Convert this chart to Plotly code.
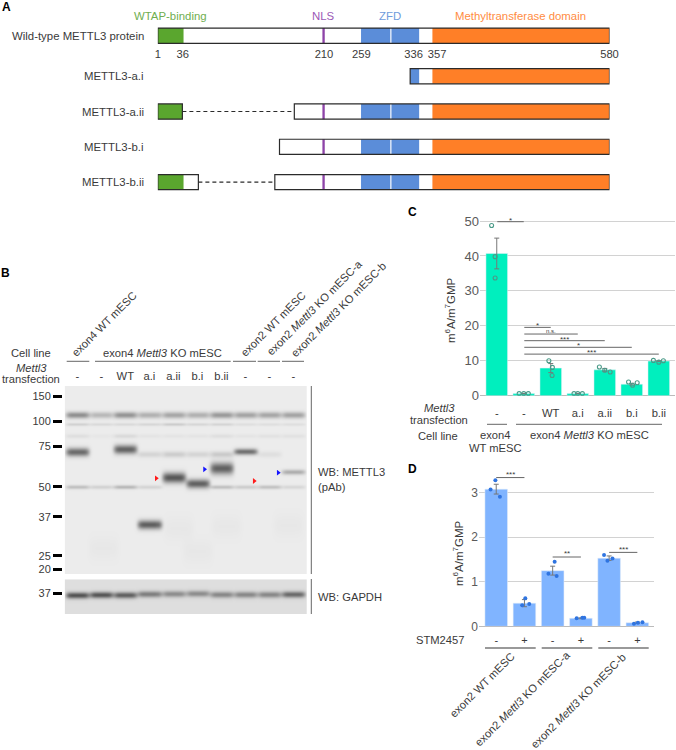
import numpy as np
import plotly.graph_objects as go

W, H = 676, 750
FONT = 'Liberation Sans'
DARK = '#3a3a3a'
GREY = '#5a5a5a'
RULE = '#666666'

# ---- panel A: residue numbers
ROW_NAMES = ['Wild-type METTL3 protein', 'METTL3-a.i', 'METTL3-a.ii', 'METTL3-b.i', 'METTL3-b.ii']
ROW_Y = [-1.15, 0, 1, 2, 3]
BOX_START = [[1], [324.5], [1, 176], [157], [1, 151]]
BOX_END = [[580], [580], [32.5, 580], [580], [53, 580]]
GREEN_END = [34, None, 32.5, None, 34]
NLS_SEEN = [True, False, True, True, True]
ZFD_FROM = [261.5, 324.5, 261.5, 261.5, 261.5]
MT_FROM = 353
RES_LABELS = ['1', '36', '210', '259', '336', '357', '580']
RES_LABEL_AT = [1, 33, 214, 262, 329, 359, 580]

# ---- panel B: blot, positions are migration in px from the top of the gel
LANES = ['-', '-', 'WT', 'a.i', 'a.ii', 'b.i', 'b.ii', '-', '-', '-']
KDA = ['150', '100', '75', '50', '37', '25', '20']
KDA_POS = [10, 35.3, 60.3, 100.7, 130.7, 169.7, 183]
TOP_BAND = [.36, .20, .34, .23, .27, .23, .32, .28, .27, .28]
SOFT_38 = [.10, .07, .07, .08, .12, .08, .09, .05, .05, .05]
SOFT_50 = [.05, .02, .07, .03, .03, .03, .05, .03, .04, .04]
SOFT_68 = [.0, .0, .0, .09, .12, .09, .13, .0, .05, .0]
LOW_BAND = [.17, .10, .20, .09, .0, .0, .17, .12, .16, .08]
STRONG_LANE = [0, 2, 3, 4, 5, 6, 7, 9]
STRONG_POS = [65.7, 63, 138.3, 91.3, 97.3, 82, 65.3, 85.7]
STRONG_SIGMA = [3.0, 3.2, 3.2, 3.7, 3.2, 4.2, 2.2, 1.8]
STRONG_DEPTH = [.50, .53, .55, .58, .54, .54, .48, .24]
SMUDGE_LANE = [1.1, 5.0, 8.8, 4.2, 6.2]
SMUDGE_POS = [162, 165, 139, 142, 140]
GAPDH_DEPTH = [.55, .54, .50, .38, .32, .32, .34, .34, .34, .46]
GAPDH_POS = [15.7, 15.3, 15.5, 14.5, 14.3, 14, 15, 15, 15, 14.8]
ARROW_LANE = [3.29, 5.30, 7.37, 8.37]
ARROW_POS = [92.3, 83.3, 95, 86.7]
ARROW_COL = ['#ff1a1a', '#1414ff', '#ff1a1a', '#1414ff']

# ---- panel C
C_LABELS = ['-', '-', 'WT', 'a.i', 'a.ii', 'b.i', 'b.ii']
C_VALUES = [40.7, 0.6, 7.9, 0.6, 7.4, 3.3, 9.9]
C_ERR = [4.4, 0.05, 1.3, 0.05, 0.4, 0.25, 0.15]
C_PTS = [[48.7, 39.8, 33.7], [0.6, 0.6, 0.6], [10.0, 8.1, 5.8], [0.6, 0.6, 0.6],
         [8.2, 7.3, 6.8], [3.9, 3.0, 3.7], [10.1, 9.6, 10.0]]
C_DX = [[-.19, -.06, -.06], [-.17, 0, .17], [-.07, .06, .05], [-.14, 0, .17],
        [-.2, 0, .2], [-.12, .03, .2], [-.2, 0, .17]]
C_SIG_TO = [2, 3, 4, 5, 6]
C_SIG_Y = [19.56, 17.65, 15.75, 13.85, 11.9]
C_SIG_TXT = ['*', 'n.s.', '***', '*', '***']

# ---- panel D
D_LABELS = ['-', '+', '-', '+', '-', '+']
D_VALUES = [3.08, 0.52, 1.25, 0.18, 1.53, 0.08]
D_ERR = [0.11, 0.08, 0.10, 0.01, 0.05, 0.015]
D_PTS = [[3.28, 3.07, 2.91], [0.63, 0.47, 0.50], [1.45, 1.18, 1.13],
         [0.18, 0.19, 0.19], [1.60, 1.47, 1.52], [0.06, 0.08, 0.09]]
D_DX = [[-.03, -.2, .13], [.03, -.08, .17], [.07, -.15, .14],
        [-.15, .05, .12], [-.18, -.06, .12], [-.12, .02, .18]]
D_SIG_FROM = [0, 2, 4]
D_SIG_Y = [3.34, 1.556, 1.66]
D_SIG_TXT = ['***', '**', '***']
D_GROUPS = ['exon2 WT mESC', 'exon2 <i>Mettl3</i> KO mESC-a', 'exon2 <i>Mettl3</i> KO mESC-b']


def dx(a, b):
    return [a / W, b / W]


def dy(top, bottom):
    return [1 - bottom / H, 1 - top / H]


annos = []
shapes = []


def text(x, y, s, size=11.2, color=DARK, anchor='center', angle=0):
    annos.append(dict(x=x / W, y=1 - y / H, xref='paper', yref='paper', text=s, showarrow=False,
                      xanchor=anchor, yanchor='middle', textangle=angle,
                      font=dict(family=FONT, size=size, color=color)))


def rule(x0, x1, y, color=RULE, width=1):
    shapes.append(dict(type='line', xref='paper', yref='paper', x0=x0 / W, x1=x1 / W,
                       y0=1 - y / H, y1=1 - y / H, line=dict(color=color, width=width)))


def vrule(x, y0, y1):
    shapes.append(dict(type='line', xref='paper', yref='paper', x0=x / W, x1=x / W,
                       y0=1 - y0 / H, y1=1 - y1 / H, line=dict(color=RULE, width=1)))


fig = go.Figure()

# ---------- A
def seg(starts, lengths, rows, color):
    fig.add_trace(go.Bar(x=lengths, y=rows, base=starts, orientation='h', width=0.43,
                         marker=dict(color=color, line=dict(color=color, width=0)),
                         xaxis='x', yaxis='y', showlegend=False))


box_s, box_l, box_r = [], [], []
for r, ss, ee in zip(ROW_Y, BOX_START, BOX_END):
    for s, e in zip(ss, ee):
        box_s.append(s); box_l.append(e - s); box_r.append(r)
seg(box_s, box_l, box_r, 'white')
seg([1 for g in GREEN_END if g], [g - 1 for g in GREEN_END if g],
    [r for r, g in zip(ROW_Y, GREEN_END) if g], '#5aa62e')
nls_rows = [r for r, n in zip(ROW_Y, NLS_SEEN) if n]
seg([212] * len(nls_rows), [3] * len(nls_rows), nls_rows, '#8e44a8')
for r, z in zip(ROW_Y, ZFD_FROM):
    if z < 299:
        seg([z, 300.5], [299 - z, 336 - 300.5], [r, r], '#5b8dd9')
    else:
        seg([z], [336 - z], [r], '#5b8dd9')
seg([MT_FROM] * 5, [580 - MT_FROM] * 5, ROW_Y, '#ff7f27')
fig.add_trace(go.Bar(x=box_l, y=box_r, base=box_s, orientation='h', width=0.43,
                     marker=dict(color='rgba(0,0,0,0)', line=dict(color='#2b2b2b', width=1.2)),
                     xaxis='x', yaxis='y', showlegend=False))
for r, ss, ee in zip(ROW_Y, BOX_START, BOX_END):
    if len(ss) == 2:
        fig.add_trace(go.Scatter(x=[ee[0], ss[1]], y=[r, r], mode='lines', xaxis='x', yaxis='y',
                                 line=dict(color='#2b2b2b', width=1.1, dash='4px,3px'), showlegend=False))

for name, r_px in zip(ROW_NAMES, [35.7, 76.3, 111.7, 147, 182.3]):
    text(145.5, r_px, name, anchor='right', size=11.4)
text(170.7, 15.7, 'WTAP-binding', color='#6fae4f', size=11.4)
text(323.3, 15.7, 'NLS', color='#9b59b6', size=11.4)
text(390, 15.7, 'ZFD', color='#6f9bdc', size=11.4)
text(520, 15.7, 'Methyltransferase domain', color='#ff8c42', size=11.4)

# ---------- B
gel_x = np.linspace(-0.525, 9.57, 242)
gel_y = np.arange(0, 188.5, 1.0)
gap_y = np.arange(0, 35.0, 1.0)


def band(xx, yy, lane, pos, sigma, depth, half=.49):
    return depth * np.exp(-((xx - lane) / half) ** 6) * np.exp(-((yy - pos) / sigma) ** 2 / 2)


xx, yy = np.meshgrid(gel_x, gel_y)
gel = np.full(xx.shape, 0.925)
for i in range(10):
    gel -= band(xx, yy, i, 28.7, 2.3, TOP_BAND[i])
    gel -= band(xx, yy, i, 38, 1.1, SOFT_38[i])
    gel -= band(xx, yy, i, 49.7, 1.5, SOFT_50[i])
    gel -= band(xx, yy, i, 68, 2.2, SOFT_68[i])
    gel -= band(xx, yy, i, 100.7, 1.4, LOW_BAND[i])
for l, p, s, d in zip(STRONG_LANE, STRONG_POS, STRONG_SIGMA, STRONG_DEPTH):
    gel -= band(xx, yy, l, p, s, d)
for l, p in zip(SMUDGE_LANE, SMUDGE_POS):
    gel -= band(xx, yy, l, p, 8, .018, half=.6)
GEL_SCALE = [[0, '#000000'], [1, '#ffffff']]
fig.add_trace(go.Heatmap(x=gel_x, y=gel_y, z=np.round(gel, 3), zmin=0, zmax=1, zsmooth='best',
                         colorscale=GEL_SCALE, showscale=False, xaxis='x2', yaxis='y2', hoverinfo='skip'))
fig.add_trace(go.Scatter(x=ARROW_LANE, y=ARROW_POS, mode='markers', xaxis='x2', yaxis='y2', showlegend=False,
                         marker=dict(symbol='triangle-right', size=5, color=ARROW_COL)))

xg, yg = np.meshgrid(gel_x, gap_y)
gap = np.full(xg.shape, 0.87)
for i in range(10):
    gap -= band(xg, yg, i, GAPDH_POS[i], 2.2, GAPDH_DEPTH[i])
fig.add_trace(go.Heatmap(x=gel_x, y=gap_y, z=np.round(gap, 3), zmin=0, zmax=1, zsmooth='best',
                         colorscale=GEL_SCALE, showscale=False, xaxis='x3', yaxis='y3', hoverinfo='skip'))

text(104, 324, 'exon4 WT mESC', angle=-45)
text(273, 324, 'exon2 WT mESC', angle=-45)
text(314, 308, 'exon2 <i>Mettl3</i> KO mESC-a', angle=-45)
text(339, 309, 'exon2 <i>Mettl3</i> KO mESC-b', angle=-45)
text(30.7, 353, 'Cell line')
text(162.7, 353, 'exon4 <i>Mettl3</i> KO mESC')
text(31, 368, '<i>Mettl3</i>')
text(30.7, 379.3, 'transfection')
for a, b in [(66.7, 89.3), (95, 230.7), (233, 256), (257.7, 280), (282, 304)]:
    rule(a, b, 361.3)
vrule(311.3, 386, 574)
vrule(311.3, 579, 614)
text(315.7, 472, 'WB: METTL3', anchor='left')
text(315.7, 486.7, '(pAb)', anchor='left')
text(315.7, 597, 'WB: GAPDH', anchor='left')

# ---------- C
fig.add_trace(go.Bar(x=list(range(7)), y=C_VALUES, width=0.8, marker=dict(color='#00efbe'),
                     xaxis='x4', yaxis='y4', showlegend=False))
fig.add_trace(go.Scatter(x=list(range(7)), y=C_VALUES, mode='markers', marker=dict(size=1, color='rgba(0,0,0,0)'),
                         error_y=dict(type='data', array=C_ERR, color='#777777', thickness=1, width=2.5),
                         xaxis='x4', yaxis='y4', showlegend=False))
for i in range(7):
    fig.add_trace(go.Scatter(x=[i + d for d in C_DX[i]], y=C_PTS[i], mode='markers', xaxis='x4', yaxis='y4',
                             marker=dict(size=4, color='rgba(0,0,0,0)', line=dict(color='#4a9a88', width=1.1)),
                             showlegend=False))
fig.add_trace(go.Scatter(x=[0.02, 1], y=[49.8, 49.8], mode='lines', line=dict(color=RULE, width=1),
                         xaxis='x4', yaxis='y4', showlegend=False))
annos.append(dict(x=0.5, y=50.2, xref='x4', yref='y4', text='*', showarrow=False, yanchor='middle',
                  font=dict(family=FONT, size=8, color=DARK)))
for to, yv, lab in zip(C_SIG_TO, C_SIG_Y, C_SIG_TXT):
    fig.add_trace(go.Scatter(x=[1.02, to], y=[yv, yv], mode='lines', line=dict(color=RULE, width=1),
                             xaxis='x4', yaxis='y4', showlegend=False))
    annos.append(dict(x=(1.02 + to) / 2, y=yv + (0.85 if lab == 'n.s.' else 0.4), xref='x4', yref='y4', text=lab,
                      showarrow=False, yanchor='middle', font=dict(family=FONT, size=6 if lab == 'n.s.' else 8, color=DARK)))
text(450, 310, 'm<sup>6</sup>A/m<sup>7</sup>GMP', angle=-90, size=11.5)
text(439, 408, '<i>Mettl3</i>')
text(438.7, 420, 'transfection')
text(438, 435.7, 'Cell line')
text(495, 435, 'exon4')
text(495, 448, 'WT mESC')
text(589, 434.5, 'exon4 <i>Mettl3</i> KO mESC')
rule(487, 507, 424.3)
rule(516, 662, 424.3)

# ---------- D
fig.add_trace(go.Bar(x=list(range(6)), y=D_VALUES, width=0.8, marker=dict(color='#80b4ff'),
                     xaxis='x5', yaxis='y5', showlegend=False))
fig.add_trace(go.Scatter(x=list(range(6)), y=D_VALUES, mode='markers', marker=dict(size=1, color='rgba(0,0,0,0)'),
                         error_y=dict(type='data', array=D_ERR, color='#777777', thickness=1, width=2.5),
                         xaxis='x5', yaxis='y5', showlegend=False))
for i in range(6):
    fig.add_trace(go.Scatter(x=[i + d for d in D_DX[i]], y=D_PTS[i], mode='markers', xaxis='x5', yaxis='y5',
                             marker=dict(size=4, color='#2f74e0'), showlegend=False))
for fr, yv, lab in zip(D_SIG_FROM, D_SIG_Y, D_SIG_TXT):
    fig.add_trace(go.Scatter(x=[fr, fr + 1], y=[yv, yv], mode='lines', line=dict(color=RULE, width=1),
                             xaxis='x5', yaxis='y5', showlegend=False))
    annos.append(dict(x=fr + .5, y=yv + .07, xref='x5', yref='y5', text=lab, showarrow=False, yanchor='middle',
                      font=dict(family=FONT, size=8, color=DARK)))
text(458, 553, 'm<sup>6</sup>A/m<sup>7</sup>GMP', angle=-90, size=11.5)
text(441, 639.5, 'STM2457', anchor='center')
for a, b in [(485, 535.7), (541.7, 592.3), (598.3, 648.7)]:
    rule(a, b, 648, color='#999999', width=2)
for g, cx, cy in zip(D_GROUPS, [482, 522, 578], [685, 699, 701]):
    text(cx, cy, g, angle=-45)

# panel letters
for letter, lx, ly in [('A', 6.5, 7), ('B', 5, 273), ('C', 413, 212), ('D', 413, 469)]:
    text(lx, ly, '<b>%s</b>' % letter, size=12, color='black')


def plain(**kw):
    # automargin off, the template turns it on and that shrinks the whole page
    base = dict(showgrid=False, zeroline=False, showline=False, ticks='', fixedrange=True, tickangle=0,
                automargin=False, tickfont=dict(family=FONT, size=11, color=DARK))
    base.update(kw)
    return base


D_TOP = 3.45
fig.update_layout(
    width=W, height=H, margin=dict(l=0, r=0, t=0, b=0), paper_bgcolor='white', plot_bgcolor='white',
    barmode='overlay', showlegend=False, annotations=annos, shapes=shapes,
    # A, rows are 35.3 px apart with a 15 px box
    xaxis=plain(domain=dx(157.8, 609.5), range=[1, 580], anchor='free', position=1 - 46 / H,
                tickmode='array', tickvals=RES_LABEL_AT, ticktext=RES_LABELS,
                tickfont=dict(family=FONT, size=11.2, color=DARK)),
    yaxis=plain(domain=dy(20, 200), range=[3.507, -1.595], showticklabels=False, anchor='x'),
    # B
    xaxis2=plain(domain=dx(64.7, 307), range=[-0.525, 9.57], side='top', anchor='y2', ticklabelstandoff=3,
                 tickmode='array', tickvals=list(range(10)), ticktext=LANES,
                 tickfont=dict(family=FONT, size=11.2, color=DARK)),
    yaxis2=plain(domain=dy(386, 574), range=[188, 0], anchor='free', position=62 / W,
                 tickmode='array', tickvals=KDA_POS, ticktext=KDA,
                 ticks='outside', ticklen=9, tickwidth=2.5, tickcolor='black'),
    xaxis3=plain(domain=dx(64.7, 307), range=[-0.525, 9.57], showticklabels=False, anchor='y3'),
    yaxis3=plain(domain=dy(579.3, 614), range=[34.7, 0], anchor='free', position=62 / W,
                 tickmode='array', tickvals=[14], ticktext=['37'],
                 ticks='outside', ticklen=9, tickwidth=2.5, tickcolor='black'),
    # C
    xaxis4=plain(domain=dx(480, 675), range=[-0.62, 6.6], anchor='y4', tickmode='array', ticklabelstandoff=9,
                 tickvals=list(range(7)), ticktext=C_LABELS, tickfont=dict(family=FONT, size=11.2, color=DARK)),
    yaxis4=plain(domain=dy(221 - 2 * 3.494, 395.7), range=[0, 52], anchor='x4', tickmode='array',
                 tickvals=[0, 10, 20, 30, 40, 50], showgrid=True, gridcolor='#d2d2d2', gridwidth=1.3,
                 zeroline=True, zerolinecolor='#bbbbbb', zerolinewidth=1.3,
                 tickfont=dict(family=FONT, size=13, color=GREY)),
    # D
    xaxis5=plain(domain=dx(479, 654), range=[-0.61, 5.59], anchor='y5', tickmode='array', ticklabelstandoff=6,
                 tickvals=list(range(6)), ticktext=D_LABELS),
    yaxis5=plain(domain=dy(626.3 - D_TOP * 44.53, 626.3), range=[0, D_TOP], anchor='x5', tickmode='array',
                 tickvals=[0, 1, 2, 3], showgrid=True, gridcolor='#d2d2d2', gridwidth=1.3,
                 zeroline=True, zerolinecolor='#bbbbbb', zerolinewidth=1.3,
                 tickfont=dict(family=FONT, size=12, color=GREY)),
)

fig.write_html("out.html", config=dict(displayModeBar=False), post_script="document.body.style.margin='0';")
